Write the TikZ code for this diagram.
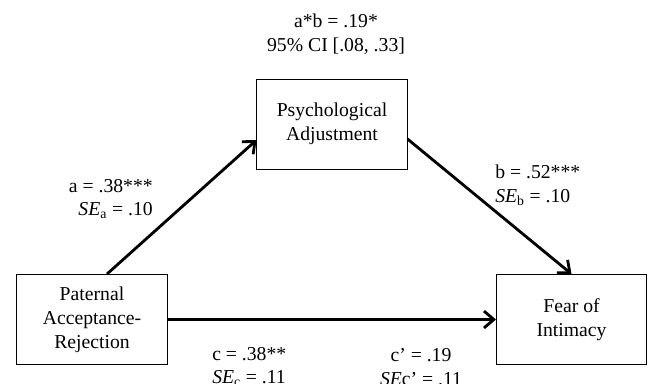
\documentclass[tikz,border=0pt]{standalone}
\usepackage{fontspec}
\setmainfont{Liberation Serif}
\usetikzlibrary{arrows.meta,positioning}

\begin{document}
\begin{tikzpicture}[x=0.025cm,y=-0.025cm,
    var/.style={rectangle,draw,line width=0.7pt,align=center,minimum width=3.75cm,minimum height=2.25cm,font=\fontsize{14}{17}\selectfont},
    lbl/.style={inner sep=0pt,font=\fontsize{14}{17}\selectfont},
    eff/.style={line width=2pt,-{Straight Barb[length=7pt,width=12pt]}}]
    \useasboundingbox (0,0) rectangle (648,383);

    % Variables
    \node[var] at (92,319.5) (par) {Paternal\\Acceptance-\\Rejection};
    \node[var] at (332,124) (psy) {Psychological\\Adjustment};
    \node[var] at (571.5,319.5) (foi) {Fear of\\Intimacy};

    % Paths
    \draw[eff] ([xshift=0.375cm]par.north) -- ([yshift=-0.4cm]psy.west);
    \draw[eff] ([yshift=-0.375cm]psy.east) -- (foi.north);
    \draw[eff] (par.east) -- (foi.west);

    % Labels
    \node[lbl,align=center] at (336,34.5) (ind) {a*b = .19*\\95\% CI [.08, .33]};
    \node[lbl,align=right,anchor=east] at (153,199) (lbla) {a = .38***\\\textit{SE}\textsubscript{a} = .10};
    \node[lbl,align=left,anchor=west] at (495,185) (lblb) {b = .52***\\\textit{SE}\textsubscript{b} = .10};
    \node[lbl,align=left,anchor=west] at (212,367) (lblc) {c = .38**\\\textit{SE}\textsubscript{c} = .11};
    \node[lbl,align=center] at (421,367) (lblcp) {c’ = .19\\\textit{SE}c’ = .11};
\end{tikzpicture}
\end{document}
